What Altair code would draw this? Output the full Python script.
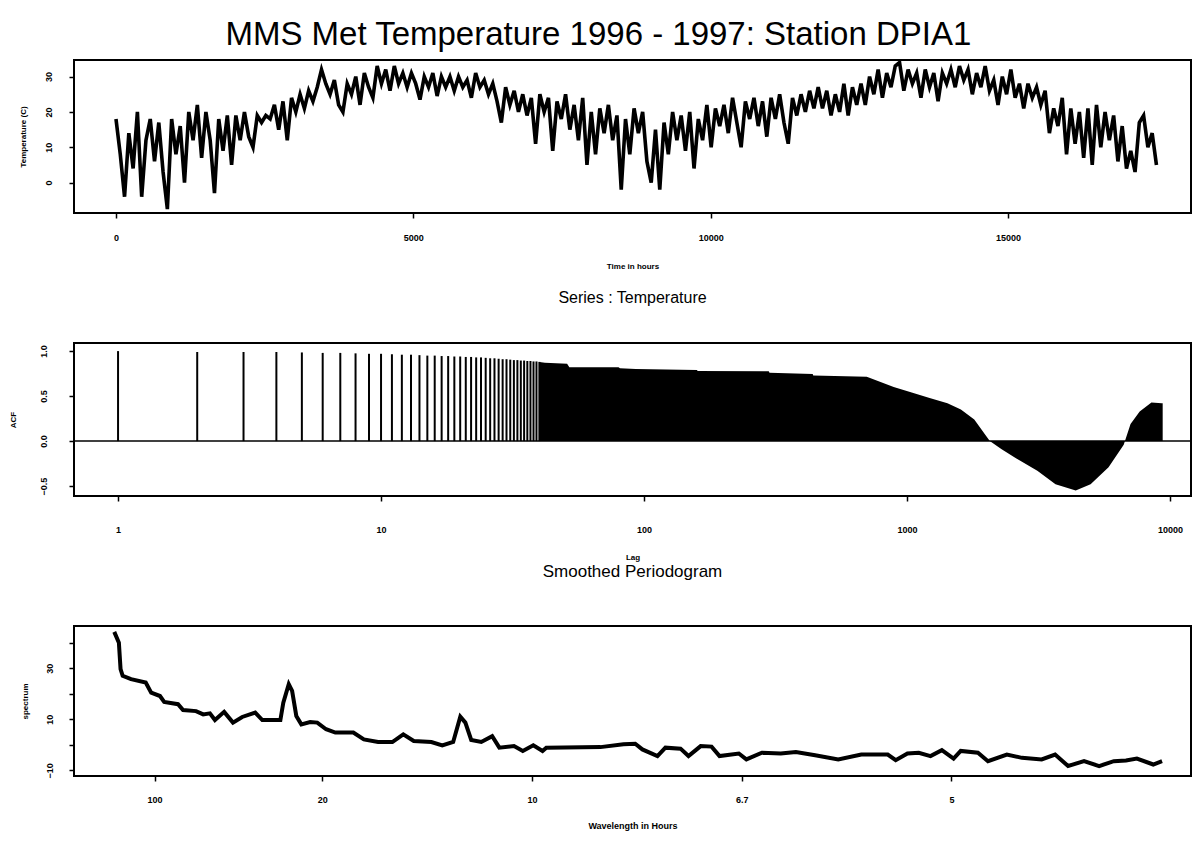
import altair as alt
import pandas as pd

FONT = "Liberation Sans"

# ---------------- Panel 1: hourly temperature (sampled every 72 h) ----------------
HOUR_STEP = 72
temperature = [
    18, 8, -4, 14, 4, 20, -4, 12, 18, 6,
    17, 3, -7.5, 18, 8, 16, 0, 20, 12, 22,
    7, 20, 12, -3, 18, 9, 19, 5, 19, 12,
    20, 13, 10, 19, 17, 19, 18, 22, 15, 23,
    12, 24, 20, 25, 21, 26, 23, 27, 32, 28,
    25, 29, 22, 20, 28, 25, 30, 22, 31, 27,
    24, 33, 28, 32, 26, 33, 28, 31, 27, 31,
    28, 23.5, 30, 27, 31, 24.5, 30, 27, 30,
    26, 30, 27, 29, 24, 31, 27, 29, 25, 28,
    23, 17, 27, 22, 26, 20, 25, 19, 24, 11,
    25, 20, 24, 9, 23, 18, 25, 15, 22, 12,
    24, 5, 20, 8, 21, 14, 22, 12, 19, -2,
    18, 8, 21, 14, 20, 6, 0, 15, -2, 17,
    8, 20, 12, 19, 9, 20, 4, 18, 12, 22,
    10, 21, 16, 22, 14, 24, 17, 10, 23, 18,
    24, 16, 23, 13, 24, 18, 25, 17, 11, 24,
    19, 25, 20, 26, 21, 27, 21, 26,
    19, 25, 20, 28, 19, 27, 22, 28, 22, 30,
    25, 32, 24, 31, 27, 33, 34, 26, 32, 28,
    31, 24, 32, 27, 31, 23, 31, 28, 32, 27,
    33, 29, 32, 25, 31, 27, 33, 26, 29, 22,
    30, 25, 32, 24, 28, 21, 28, 24, 27, 22,
    26, 14, 21, 16, 24, 8, 21, 11, 20, 7,
    21, 5, 22, 10, 20, 12, 19, 6, 16, 4,
    9, 3, 17, 19, 10, 14, 5,
]
hours = [i * HOUR_STEP for i in range(len(temperature))]

# ---------------- Panel 2: autocorrelation ----------------
acf_lags = list(range(1, 41))
acf_values = [
    1.00, 0.99, 0.99, 0.99, 0.985, 0.98, 0.98, 0.975, 0.97, 0.97,
    0.965, 0.96, 0.96, 0.955, 0.95, 0.95, 0.945, 0.945, 0.94, 0.94,
    0.935, 0.935, 0.93, 0.93, 0.925, 0.92, 0.92, 0.915, 0.91, 0.91,
    0.905, 0.90, 0.90, 0.895, 0.895, 0.89, 0.89, 0.885, 0.885, 0.88,
]
acf_dense_lags = [40, 42, 51, 52, 80, 81, 93, 159, 160, 298, 300, 438, 440, 703,
                  890, 1042, 1219, 1425, 1603, 1802, 2064, 2290, 2560, 3130, 3670,
                  4380, 4990, 5840, 6670, 7080, 7670, 8500, 9300, 9380]
acf_dense_values = [0.88, 0.87, 0.86, 0.82, 0.82, 0.81, 0.80, 0.79, 0.78, 0.775, 0.76,
                    0.745, 0.73, 0.715, 0.60, 0.54, 0.48, 0.42, 0.35, 0.24, 0.0,
                    -0.09, -0.18, -0.33, -0.48, -0.55, -0.48, -0.29, -0.04, 0.19,
                    0.33, 0.43, 0.42, 0.42]

# ---------------- Panel 3: smoothed periodogram ----------------
frequency = [
    0.0004, 0.0015, 0.0019, 0.0024, 0.0044, 0.0079, 0.0092, 0.0113, 0.0123, 0.0156,
    0.0168, 0.0199, 0.0216, 0.0232, 0.0244, 0.0266, 0.0287, 0.0309, 0.0340, 0.0357,
    0.0400, 0.0407, 0.0420, 0.0428, 0.0438, 0.0450, 0.0471, 0.0488, 0.0509, 0.0531,
    0.0574, 0.0599, 0.0633, 0.0667, 0.0693, 0.0718, 0.0760, 0.0786, 0.0812, 0.0829,
    0.0841, 0.0855, 0.0879, 0.0905, 0.0922, 0.0957, 0.0978, 0.1003, 0.1025, 0.1034,
    0.1163, 0.1218, 0.1246, 0.1263, 0.1299, 0.1318, 0.1354, 0.1373, 0.1402, 0.1428,
    0.1447, 0.1493, 0.1511, 0.1548, 0.1593, 0.1629, 0.1675, 0.1730, 0.1785, 0.1848,
    0.1867, 0.1895, 0.1922, 0.1950, 0.1977, 0.2005, 0.2022, 0.2063, 0.2087, 0.2132,
    0.2168, 0.2215, 0.2247, 0.2278, 0.2316, 0.2352, 0.2387, 0.2416, 0.2442, 0.2481,
    0.2502,
]
spectrum_db = [
    44.2, 40, 29.6, 27, 25.7, 24.4, 20.4, 19.1, 16.8, 15.9,
    13.6, 13.2, 11.9, 12.3, 9.7, 12.9, 8.7, 10.9, 12.6, 9.7,
    9.7, 16.5, 23.7, 21.1, 11.3, 8, 8.9, 8.7, 6.1, 4.8,
    4.8, 2.1, 1.1, 1.1, 4.1, 1.5, 1.1, -0.2, 1.1, 11,
    8.7, 1.9, 1.1, 3.4, -1.1, -0.5, -2.4, -0.2, -2.4, -1.1,
    -0.9, 0.2, 0.4, -1.8, -4.4, -1.1, -1.5, -4.4, -0.5, -0.7,
    -4.4, -3.4, -5.7, -3.1, -3.4, -2.8, -4.1, -5.7, -3.8, -3.8,
    -6, -3.4, -3.1, -4.4, -2.1, -5.4, -2.4, -3.1, -6.4, -3.8,
    -5.1, -5.7, -3.8, -8.3, -6.4, -8.3, -6.4, -6.1, -5.4, -7.7,
    -6.4,
]

W = 1117
H1, H2, H3 = 153, 153, 150


def axis(**kw):
    base = dict(labelFont=FONT, labelFontSize=9, labelFontWeight="bold",
                titleFont=FONT, titleFontSize=8, titleFontWeight="bold",
                domain=False, grid=False, tickColor="black", tickWidth=1.5,
                tickSize=5, labelColor="black", titleColor="black")
    base.update(kw)
    return alt.Axis(**base)


# Panel 1
df1 = pd.DataFrame({"hours": hours, "temp": temperature})
x1 = alt.X("hours:Q", scale=alt.Scale(domain=[-706, 18077], nice=False, zero=False),
           axis=axis(values=[0, 5000, 10000, 15000], title="Time in hours",
                     labelPadding=15, titlePadding=20, format="d"))
y1 = alt.Y("temp:Q", scale=alt.Scale(domain=[-8.6, 34.7], nice=False, zero=False),
           axis=axis(values=[0, 10, 20, 30], title="Temperature (C)",
                     labelAngle=270, labelPadding=16, titlePadding=17))
p1 = alt.Chart(df1).mark_line(color="black", strokeWidth=3.6, clip=True).encode(
    x=x1, y=y1).properties(width=W, height=H1)

# Panel 2
lag_scale = alt.Scale(type="log", domain=[0.68, 12020], nice=False)
acf_scale = alt.Scale(domain=[-0.61, 1.09], nice=False, zero=False)
x2 = alt.X("lag:Q", scale=lag_scale,
           axis=axis(values=[1, 10, 100, 1000, 10000], title="Lag", format="d",
                     labelPadding=24, titlePadding=19))
y2 = alt.Y("acf:Q", scale=acf_scale,
           axis=axis(values=[-0.5, 0, 0.5, 1.0], title="ACF", format=".1f",
                     labelAngle=270, labelPadding=21, titlePadding=22))
df2a = pd.DataFrame({"lag": acf_lags, "acf": acf_values})
df2b = pd.DataFrame({"lag": acf_dense_lags, "acf": acf_dense_values})
rules = alt.Chart(df2a).mark_rule(color="black", strokeWidth=2).encode(
    x=x2, y=y2, y2=alt.datum(0))
dense = alt.Chart(df2b).mark_area(color="black", clip=True).encode(
    x=alt.X("lag:Q", scale=lag_scale), y=alt.Y("acf:Q", scale=acf_scale), y2=alt.datum(0))
zero = alt.Chart(pd.DataFrame({"acf": [0.0]})).mark_rule(color="black", strokeWidth=1.5).encode(
    y=alt.Y("acf:Q", scale=acf_scale))
p2 = alt.layer(rules, dense, zero).properties(
    width=W, height=H2,
    title=alt.TitleParams("Series : Temperature", font=FONT, fontSize=16,
                          fontWeight="normal", offset=37, anchor="middle"))

# Panel 3
df3 = pd.DataFrame({"freq": frequency, "db": spectrum_db})
x3 = alt.X("freq:Q", scale=alt.Scale(domain=[-0.0092, 0.2571], nice=False, zero=False),
           axis=axis(values=[0.01, 0.05, 0.10, 0.15, 0.20], title="Wavelength in Hours",
                     labelExpr="round(10 / datum.value) / 10",
                     labelPadding=14, titlePadding=17, titleFontSize=9))
y3 = alt.Y("db:Q", scale=alt.Scale(domain=[-12.2, 46.5], nice=False, zero=False),
           axis=axis(values=[-10, 0, 10, 20, 30, 40], title="spectrum",
                     labelExpr="datum.value % 20 != 0 ? datum.label : ''",
                     labelAngle=270, labelPadding=15, titlePadding=16))
p3 = alt.Chart(df3).mark_line(color="black", strokeWidth=4, clip=True).encode(
    x=x3, y=y3).properties(
    width=W, height=H3,
    title=alt.TitleParams("Smoothed Periodogram", font=FONT, fontSize=17,
                          fontWeight="normal", offset=45, anchor="middle"))

chart = alt.vconcat(p1, p2, p3, spacing=130, bounds="flush").properties(
    title=alt.TitleParams("MMS Met Temperature 1996 - 1997: Station DPIA1", font=FONT,
                          fontSize=33, fontWeight="normal", anchor="middle", offset=7, dx=-2),
    padding={"left": 0, "top": 11, "right": 0, "bottom": 0},
).configure_view(stroke="black", strokeWidth=2)

chart.save("out.html", embed_options={"renderer": "svg", "actions": False})
